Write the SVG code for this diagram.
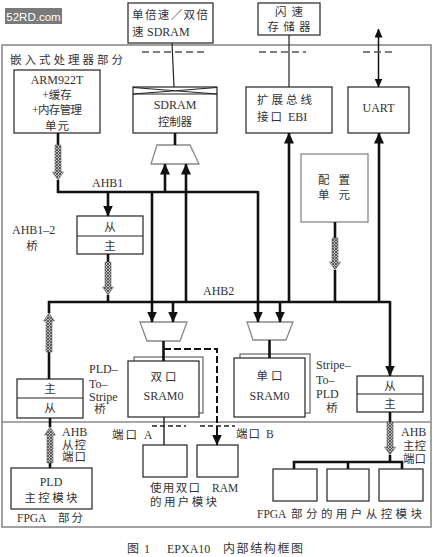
<svg xmlns="http://www.w3.org/2000/svg" width="433" height="557" viewBox="0 0 433 557">
<defs>
<style>
text{font-family:"Liberation Serif","Noto Sans CJK SC",serif;fill:#333;font-size:11.5px}
.m{text-anchor:middle}
.lat{font-size:12px}
.box{fill:#fff;stroke:#333;stroke-width:1.3}
.gbox{fill:#fff;stroke:#888;stroke-width:1.3}
.bus{fill:none;stroke:#111;stroke-width:2.6}
.thin{fill:none;stroke:#222;stroke-width:1.2}
.gdash{fill:none;stroke:#555;stroke-width:1.6;stroke-dasharray:7,4}
.kdash{fill:none;stroke:#111;stroke-width:2;stroke-dasharray:7,3}
.sdash{fill:none;stroke:#222;stroke-width:1.5;stroke-dasharray:5,3}
.hat{fill:url(#hatch);stroke:#666;stroke-width:0.6}
</style>
<pattern id="hatch" width="3" height="3" patternUnits="userSpaceOnUse">
<rect width="3" height="3" fill="#bbb"/>
<path d="M0,0 L3,3 M3,0 L0,3" stroke="#444" stroke-width="0.8"/>
</pattern>
<marker id="ah" markerWidth="11" markerHeight="10" refX="10.5" refY="5" orient="auto" markerUnits="userSpaceOnUse">
<path d="M0,0 L11,5 L0,10 Z" fill="#111"/>
</marker>
<marker id="ahs" markerWidth="9" markerHeight="8" refX="8.5" refY="4" orient="auto" markerUnits="userSpaceOnUse">
<path d="M0,0 L9,4 L0,8 Z" fill="#111"/>
</marker>
<marker id="ahsr" markerWidth="9" markerHeight="8" refX="0.5" refY="4" orient="auto" markerUnits="userSpaceOnUse">
<path d="M9,0 L0,4 L9,8 Z" fill="#111"/>
</marker>
</defs>
<rect width="433" height="557" fill="#fff"/>

<g id="n-watermark">
<rect x="5" y="8" width="57" height="16" fill="#7a7a7a"/>
<text x="33.5" y="20.5" class="m" style="font-family:'Liberation Sans',sans-serif;fill:#fff;font-size:11.5px">52RD.com</text>
</g>

<g id="n-frame">
<rect x="2" y="45" width="429" height="482" fill="none" stroke="#8a8a8a" stroke-width="1.6"/>
<line x1="2" y1="422" x2="431" y2="422" stroke="#8a8a8a" stroke-width="1.6"/>
<text x="10" y="64" textLength="113" lengthAdjust="spacing">嵌入式处理器部分</text>
<text x="17" y="522">FPGA</text>
<text x="58" y="522" textLength="25" lengthAdjust="spacing">部分</text>
</g>

<g id="n-sdram-mem">
<rect x="128" y="3" width="85" height="40" class="box"/>
<text x="132" y="19" textLength="76" lengthAdjust="spacing">单倍速／双倍</text>
<text x="132" y="36">速</text>
<text x="147" y="36" class="lat">SDRAM</text>
</g>

<g id="n-flash">
<rect x="258" y="3" width="62" height="32" class="box"/>
<text x="289" y="16" class="m" textLength="28" lengthAdjust="spacing">闪速</text>
<text x="289" y="31" class="m" textLength="43" lengthAdjust="spacing">存储器</text>
</g>

<g id="n-arm">
<rect x="14" y="70" width="86" height="63" class="box"/>
<text x="57" y="84" class="m lat">ARM922T</text>
<text x="57" y="99" class="m">+缓存</text>
<text x="57" y="114" class="m" textLength="50" lengthAdjust="spacing">+内存管理</text>
<text x="57" y="130" class="m" textLength="24" lengthAdjust="spacing">单元</text>
</g>

<g id="n-sdram-ctrl">
<rect x="133" y="87" width="84" height="46" class="box"/>
<line x1="133" y1="94" x2="217" y2="94" class="thin"/>
<path d="M133,87.5 L217,94 M133,94 L217,87.5" class="thin" stroke-width="0.9"/>
<text x="175" y="109" class="m lat">SDRAM</text>
<text x="175" y="126" class="m" textLength="34" lengthAdjust="spacing">控制器</text>
</g>

<g id="n-ebi">
<rect x="246" y="87" width="86" height="46" class="box"/>
<text x="257" y="104" textLength="55" lengthAdjust="spacing">扩展总线</text>
<text x="257" y="121" textLength="25" lengthAdjust="spacing">接口</text>
<text x="288" y="121" class="lat">EBI</text>
</g>

<g id="n-uart">
<rect x="348" y="87" width="61" height="46" class="box"/>
<text x="378.5" y="112" class="m lat">UART</text>
</g>

<g id="n-config">
<rect x="301" y="154" width="67" height="68" class="gbox"/>
<text x="318" y="184" textLength="32" lengthAdjust="spacing">配 置</text>
<text x="318" y="199" textLength="32" lengthAdjust="spacing">单 元</text>
</g>

<g id="n-mux-sdram">
<polygon points="157,145 190,145 199,164 151,164" class="gbox"/>
</g>

<g id="n-bridge12">
<rect x="77" y="216" width="66" height="38" class="box"/>
<line x1="77" y1="236" x2="143" y2="236" class="thin"/>
<text x="110" y="231" class="m">从</text>
<text x="110" y="250" class="m">主</text>
<text x="12" y="234" class="lat">AHB1–2</text>
<text x="32" y="250" class="m">桥</text>
</g>

<g id="n-mux-dp">
<polygon points="140,322 187,322 180,341 147,341" class="gbox"/>
</g>
<g id="n-mux-sp">
<polygon points="247,322 293,322 286,340 253,340" class="gbox"/>
</g>

<g id="n-dpsram">
<rect x="134" y="357" width="69" height="56" fill="#fff" stroke="#444" stroke-width="1"/>
<rect x="128" y="361" width="71" height="56" class="box"/>
<text x="163.5" y="381" class="m" textLength="26" lengthAdjust="spacing">双口</text>
<text x="163.5" y="400" class="m lat">SRAM0</text>
</g>

<g id="n-spsram">
<rect x="240" y="354" width="70" height="59" fill="#fff" stroke="#444" stroke-width="1"/>
<rect x="234" y="358" width="71" height="59" class="box"/>
<text x="269.5" y="380" class="m" textLength="26" lengthAdjust="spacing">单口</text>
<text x="269.5" y="400" class="m lat">SRAM0</text>
</g>

<g id="n-pld2stripe">
<rect x="17" y="379" width="66" height="39" class="box"/>
<line x1="17" y1="398" x2="83" y2="398" class="thin"/>
<text x="50" y="393" class="m">主</text>
<text x="50" y="412" class="m">从</text>
<text x="89" y="373" class="lat">PLD–</text>
<text x="89" y="388" class="lat">To–</text>
<text x="89" y="401" class="lat">Stripe</text>
<text x="100" y="413" class="m">桥</text>
</g>

<g id="n-stripe2pld">
<rect x="357" y="376" width="66" height="36" class="box"/>
<line x1="357" y1="394" x2="423" y2="394" class="thin"/>
<text x="390" y="390" class="m">从</text>
<text x="390" y="408" class="m">主</text>
<text x="316" y="369" class="lat">Stripe–</text>
<text x="316" y="384" class="lat">To–</text>
<text x="316" y="398" class="lat">PLD</text>
<text x="332" y="412" class="m">桥</text>
</g>

<g id="n-pld-master">
<rect x="11" y="468" width="81" height="41" class="box"/>
<text x="51" y="486" class="m lat">PLD</text>
<text x="51" y="502" class="m" textLength="53" lengthAdjust="spacing">主控模块</text>
<text x="62" y="436" class="lat">AHB</text>
<text x="62" y="449" textLength="24" lengthAdjust="spacing">从控</text>
<text x="62" y="461" textLength="24" lengthAdjust="spacing">端口</text>
</g>

<g id="n-user-dp">
<rect x="143" y="445" width="44" height="32" class="box"/>
<rect x="197" y="445" width="41" height="32" class="box"/>
<text x="150" y="492" textLength="50" lengthAdjust="spacing">使用双口</text>
<text x="212" y="492">RAM</text>
<text x="150" y="506" textLength="67" lengthAdjust="spacing">的用户模块</text>
<text x="112" y="439" textLength="25" lengthAdjust="spacing">端口</text>
<text x="144" y="439">A</text>
<text x="236" y="438" textLength="24" lengthAdjust="spacing">端口</text>
<text x="266" y="438">B</text>
</g>

<g id="n-user-slave">
<rect x="273" y="469" width="44" height="32" class="box"/>
<rect x="327" y="469" width="42" height="32" class="box"/>
<rect x="379" y="469" width="44" height="32" class="box"/>
<text x="257" y="518">FPGA</text>
<text x="291" y="518" textLength="131" lengthAdjust="spacing">部分的用户从控模块</text>
<text x="401" y="436" class="lat">AHB</text>
<text x="403" y="450" textLength="23" lengthAdjust="spacing">主控</text>
<text x="403" y="463" textLength="23" lengthAdjust="spacing">端口</text>
</g>

<g id="labels">
<text x="92" y="187" class="lat">AHB1</text>
<text x="203" y="295" class="lat">AHB2</text>
<text x="127" y="553" style="font-size:12px">图</text>
<text x="144" y="553" style="font-size:12px">1</text>
<text x="167" y="553" style="font-size:12px">EPXA10</text>
<text x="223" y="553" style="font-size:12px" textLength="80" lengthAdjust="spacing">内部结构框图</text>
</g>

<g id="connectors">
<line x1="172" y1="43" x2="174" y2="87" class="thin"/>
<line x1="289" y1="35" x2="289" y2="87" class="thin"/>
<line x1="378.5" y1="29" x2="378.5" y2="87" stroke="#111" stroke-width="1.5" marker-start="url(#ahsr)" marker-end="url(#ahs)"/>
<line x1="142" y1="52" x2="204" y2="52" class="gdash"/>
<line x1="259" y1="52" x2="306" y2="52" class="gdash"/>
<line x1="363" y1="52" x2="394" y2="52" class="gdash"/>
<path d="M58,133 V145 M58,180 V192 H258" class="bus"/>
<polygon points="55,145 61,145 61,172 63.5,172 58,180 52.5,172 55,172" class="hat"/>
<line x1="175" y1="133" x2="175" y2="145" class="bus"/>
<line x1="165" y1="192" x2="165" y2="164" class="bus" marker-end="url(#ah)"/>
<line x1="186" y1="302" x2="186" y2="164" class="bus" marker-end="url(#ah)"/>
<line x1="108" y1="192" x2="108" y2="216" class="bus" marker-end="url(#ah)"/>
<path d="M108,254 V262 M108,295 V302" class="bus"/>
<polygon points="105,262 111,262 111,287 113.5,287 108,295 102.5,287 105,287" class="hat"/>
<line x1="152" y1="192" x2="152" y2="322" class="bus" marker-end="url(#ah)"/>
<line x1="258" y1="191" x2="258" y2="322" class="bus" marker-end="url(#ah)"/>
<path d="M49,313 V302 H390" class="bus"/>
<path d="M49,352 V379" class="bus"/>
<polygon points="46,352 52,352 52,321 54.5,321 49,313 43.5,321 46,321" class="hat"/>
<line x1="173" y1="302" x2="173" y2="322" class="bus" marker-end="url(#ah)"/>
<line x1="280" y1="302" x2="280" y2="322" class="bus" marker-end="url(#ah)"/>
<line x1="289" y1="302" x2="289" y2="133" class="bus" marker-end="url(#ah)"/>
<line x1="379" y1="302" x2="379" y2="133" class="bus" marker-end="url(#ah)"/>
<path d="M335,222 V238 M335,270 V302" class="bus"/>
<polygon points="332,238 338,238 338,262 340.5,262 335,270 329.5,262 332,262" class="hat"/>
<line x1="390" y1="301" x2="390" y2="376" class="bus" marker-end="url(#ah)"/>
<line x1="163.5" y1="341" x2="163.5" y2="361" class="bus"/>
<line x1="269.5" y1="340" x2="269.5" y2="358" class="bus"/>
<path d="M164,349 H217 V437" class="kdash"/>
<line x1="217" y1="430" x2="217" y2="445" stroke="#111" stroke-width="2" marker-end="url(#ah)"/>
<line x1="164" y1="417" x2="164" y2="445" stroke="#222" stroke-width="1.4"/>
<line x1="152" y1="426" x2="186" y2="426" class="sdash"/>
<line x1="200" y1="426" x2="235" y2="426" class="sdash"/>
<path d="M50,418 V427 M50,463 V468" class="bus"/>
<polygon points="47,463 53,463 53,435 55.5,435 50,427 44.5,435 47,435" class="hat"/>
<path d="M390,412 V422 M390,455 V462" class="bus"/>
<polygon points="387,422 393,422 393,447 395.5,447 390,455 384.5,447 387,447" class="hat"/>
<path d="M294,469 V462 H402 V469 M348,462 V469" class="bus"/>
</g>
</svg>
